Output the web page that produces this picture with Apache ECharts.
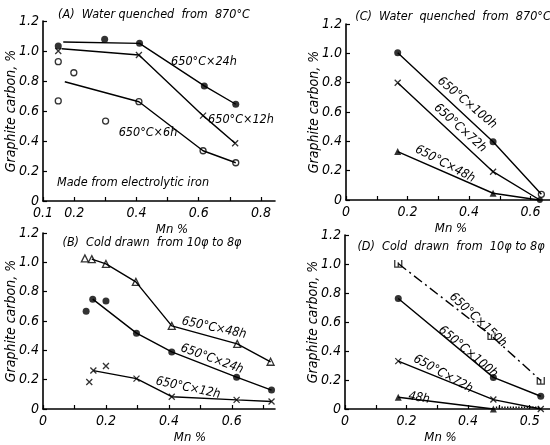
<!DOCTYPE html>
<html>
<head>
<meta charset="utf-8">
<script src="https://cdn.jsdelivr.net/npm/echarts@6/dist/echarts.min.js"></script>
<style>
  html, body { margin: 0; padding: 0; background: #fff; }
  #chart { width: 550px; height: 445px; }
</style>
</head>
<body>
<div id="chart"></div>
<script>
// tick labels
const yTicks = ['0', '0.2', '0.4', '0.6', '0.8', '1.0', '1.2']
const xTicksA = { '0.1': '0.1', '0.2': '0.2', '0.4': '0.4', '0.6': '0.6', '0.8': '0.8' }
const xTicksB = { '0.0': '0', '0.2': '0.2', '0.4': '0.4', '0.6': '0.6' }
const xTicksC = { '0.0': '0', '0.2': '0.2', '0.4': '0.4', '0.6': '0.6' }
const xTicksD = { '0.0': '0', '0.2': '0.2', '0.4': '0.4', '0.6': '0.5' }

// (A) water quenched from 870C : [Mn %, graphite carbon %]
const a24Pts = [[0.149, 1.033], [0.298, 1.078], [0.41, 1.051], [0.618, 0.767], [0.719, 0.645]]
const a24Line = [[0.165, 1.06], [0.41, 1.051], [0.618, 0.767], [0.719, 0.645]]
const a12Pts = [[0.149, 1.0], [0.408, 0.973], [0.614, 0.569], [0.717, 0.385]]
const a12Line = [[0.16, 1.015], [0.408, 0.973], [0.614, 0.569], [0.717, 0.385]]
const a6Pts = [[0.149, 0.929], [0.149, 0.667], [0.199, 0.855], [0.301, 0.533], [0.408, 0.662], [0.614, 0.335], [0.719, 0.255]]
const a6Line = [[0.17, 0.795], [0.408, 0.662], [0.614, 0.335], [0.719, 0.255]]

// (B) cold drawn
const b48Pts = [[0.133, 1.027], [0.155, 1.022], [0.2, 0.989], [0.295, 0.867], [0.409, 0.567], [0.617, 0.444], [0.723, 0.322]]
const b48Line = [[0.155, 1.022], [0.2, 0.989], [0.295, 0.867], [0.409, 0.567], [0.617, 0.444], [0.723, 0.322]]
const b24Pts = [[0.137, 0.667], [0.158, 0.749], [0.2, 0.737], [0.297, 0.517], [0.409, 0.389], [0.615, 0.217], [0.726, 0.129]]
const b24Line = [[0.158, 0.749], [0.297, 0.517], [0.409, 0.389], [0.615, 0.217], [0.726, 0.129]]
const b12Pts = [[0.147, 0.184], [0.16, 0.262], [0.2, 0.293], [0.297, 0.207], [0.409, 0.084], [0.615, 0.062], [0.726, 0.051]]
const b12Line = [[0.16, 0.262], [0.297, 0.207], [0.409, 0.084], [0.615, 0.062], [0.726, 0.051]]

// (C) water quenched, longer anneals
const c100 = [[0.168, 1.004], [0.478, 0.397], [0.635, 0.039]]
const c72 = [[0.168, 0.8], [0.478, 0.193], [0.63, 0.0]]
const c48 = [[0.168, 0.33], [0.478, 0.046], [0.627, 0.0]]

// (D) cold drawn, longer anneals
const d150 = [[0.173, 1.003], [0.476, 0.504], [0.636, 0.196]]
const d100 = [[0.173, 0.762], [0.482, 0.218], [0.636, 0.088]]
const d72 = [[0.173, 0.33], [0.482, 0.065], [0.636, 0.0]]
const d48 = [[0.173, 0.081], [0.482, 0.0]]
const d48Tail = [[0.49, 0.012], [0.63, 0.012]]

const FONT = "'Liberation Sans Narrow', 'DejaVu Sans Condensed', 'Liberation Sans', sans-serif"
const CROSS = 'path://M0,0L10,10M10,0L0,10'
const SQ = 'path://M0,0L0,10L10,10L10,0M5,3L5,10'

const txt = { fontFamily: FONT, fontStyle: 'italic', color: '#000' }

function xAxis (grid, min, max, ticks, name, pad) {
  return {
    type: 'value',
    gridIndex: grid,
    min: min,
    max: max,
    interval: 0.1,
    splitLine: { show: false },
    axisLine: { onZero: false, lineStyle: { color: '#000', width: 1.6 } },
    axisTick: { inside: true, length: 4, lineStyle: { color: '#000', width: 1.2 } },
    axisLabel: {
      ...txt,
      fontSize: 14,
      margin: 5,
      showMaxLabel: false,
      formatter: v => ticks[v.toFixed(1)] || ''
    },
    name: name,
    nameLocation: 'middle',
    nameGap: 22,
    nameMoveOverlap: false,
    nameTextStyle: { ...txt, fontSize: 13, padding: pad }
  }
}

function yAxis (grid, gap) {
  return {
    type: 'value',
    gridIndex: grid,
    min: 0,
    max: 1.2,
    interval: 0.2,
    splitLine: { show: false },
    axisLine: { lineStyle: { color: '#000', width: 1.6 } },
    axisTick: { inside: true, length: 4, lineStyle: { color: '#000', width: 1.2 } },
    axisLabel: {
      ...txt,
      fontSize: 14,
      margin: 4,
      formatter: v => yTicks[Math.round(v / 0.2)]
    },
    name: 'Graphite carbon, %',
    nameLocation: 'middle',
    nameGap: gap,
    nameMoveOverlap: false,
    nameTextStyle: { ...txt, fontSize: 14 }
  }
}

function line (i, data, type) {
  return {
    type: 'line',
    xAxisIndex: i,
    yAxisIndex: i,
    data: data,
    symbol: 'none',
    silent: true,
    lineStyle: { color: '#000', width: 1.4, type: type || 'solid' }
  }
}

function pts (i, data, symbol, size, filled) {
  return {
    type: 'scatter',
    xAxisIndex: i,
    yAxisIndex: i,
    data: data,
    symbol: symbol,
    symbolSize: size,
    silent: true,
    itemStyle: {
      color: filled ? '#000' : '#fff',
      borderColor: '#000',
      borderWidth: filled ? 0 : 1.3
    }
  }
}

function cross (i, data) {
  return {
    type: 'scatter',
    xAxisIndex: i,
    yAxisIndex: i,
    data: data,
    symbol: CROSS,
    symbolSize: 6,
    silent: true,
    itemStyle: { color: 'transparent', borderColor: '#000', borderWidth: 1.3 }
  }
}

// deg > 0 tilts the text down to the right
function label (text, x, y, deg, size) {
  return {
    type: 'text',
    x: x,
    y: y,
    rotation: -(deg || 0) * Math.PI / 180,
    style: {
      text: text,
      fontFamily: FONT,
      fontStyle: 'italic',
      fontSize: size || 12.5,
      fill: '#000',
      align: 'center',
      verticalAlign: 'middle'
    }
  }
}

const myChart = echarts.init(document.getElementById('chart'))
const option = {
  animation: false,
  backgroundColor: '#fff',
  grid: [
    { left: 43, top: 21, width: 232, height: 180 },
    { left: 43, top: 233, width: 232, height: 180 },
    { left: 346, top: 24, width: 204, height: 176 },
    { left: 345, top: 235, width: 205, height: 178 }
  ],
  xAxis: [
    xAxis(0, 0.1, 0.845, xTicksA, 'Mn %', [0, 0, 0, 26]),
    xAxis(1, 0, 0.737, xTicksB, 'Mn %', [0, 0, 0, 62]),
    xAxis(2, 0, 0.663, xTicksC, 'Mn %', [0, 0, 0, 6]),
    xAxis(3, 0, 0.666, xTicksD, 'Mn %', [0, 0, 0, -14])
  ],
  yAxis: [yAxis(0, 25), yAxis(1, 25), yAxis(2, 25), yAxis(3, 25)],
  series: [
    line(0, a24Line), pts(0, a24Pts, 'circle', 7, true),
    line(0, a12Line), cross(0, a12Pts),
    line(0, a6Line), pts(0, a6Pts, 'circle', 6, false),

    line(1, b48Line), pts(1, b48Pts, 'triangle', 7, false),
    line(1, b24Line), pts(1, b24Pts, 'circle', 7, true),
    line(1, b12Line), cross(1, b12Pts),

    line(2, c100), pts(2, c100.slice(0, 2), 'circle', 7, true), pts(2, c100.slice(2), 'circle', 6, false),
    line(2, c72), cross(2, c72.slice(0, 2)), pts(2, c72.slice(2), 'circle', 6, true),
    line(2, c48), pts(2, c48.slice(0, 2), 'triangle', 7, true),

    line(3, d150, [10, 4, 2, 4]), pts(3, d150, SQ, 7, false),
    line(3, d100), pts(3, d100, 'circle', 7, true),
    line(3, d72), cross(3, d72),
    line(3, d48), line(3, d48Tail, 'dotted'), pts(3, d48, 'triangle', 7, true)
  ],
  graphic: [
    label('(A)  Water quenched  from  870°C', 154, 15),
    label('(C)  Water  quenched  from  870°C', 453, 17),
    label('(B)  Cold drawn  from 10\u03c6 to 8\u03c6', 152, 243),
    label('(D)  Cold  drawn  from  10\u03c6 to 8\u03c6', 451, 247),

    label('650°C×24h', 204, 62),
    label('650°C×12h', 241, 120),
    label('650°C×6h', 148, 133),
    label('Made from electrolytic iron', 133, 183),

    label('650°C×48h', 214, 328, 12),
    label('650°C×24h', 212, 359, 20),
    label('650°C×12h', 188, 388, 12),

    label('650°C×100h', 467, 103, 40),
    label('650°C×72h', 460, 128, 42),
    label('650°C×48h', 445, 164, 28),

    label('650°C×150h', 478, 320, 43),
    label('650°C×100h', 468, 352, 40),
    label('650°C×72h', 443, 374, 29),
    label('48h', 419, 398, 10)
  ]
}
myChart.setOption(option)
</script>
</body>
</html>
